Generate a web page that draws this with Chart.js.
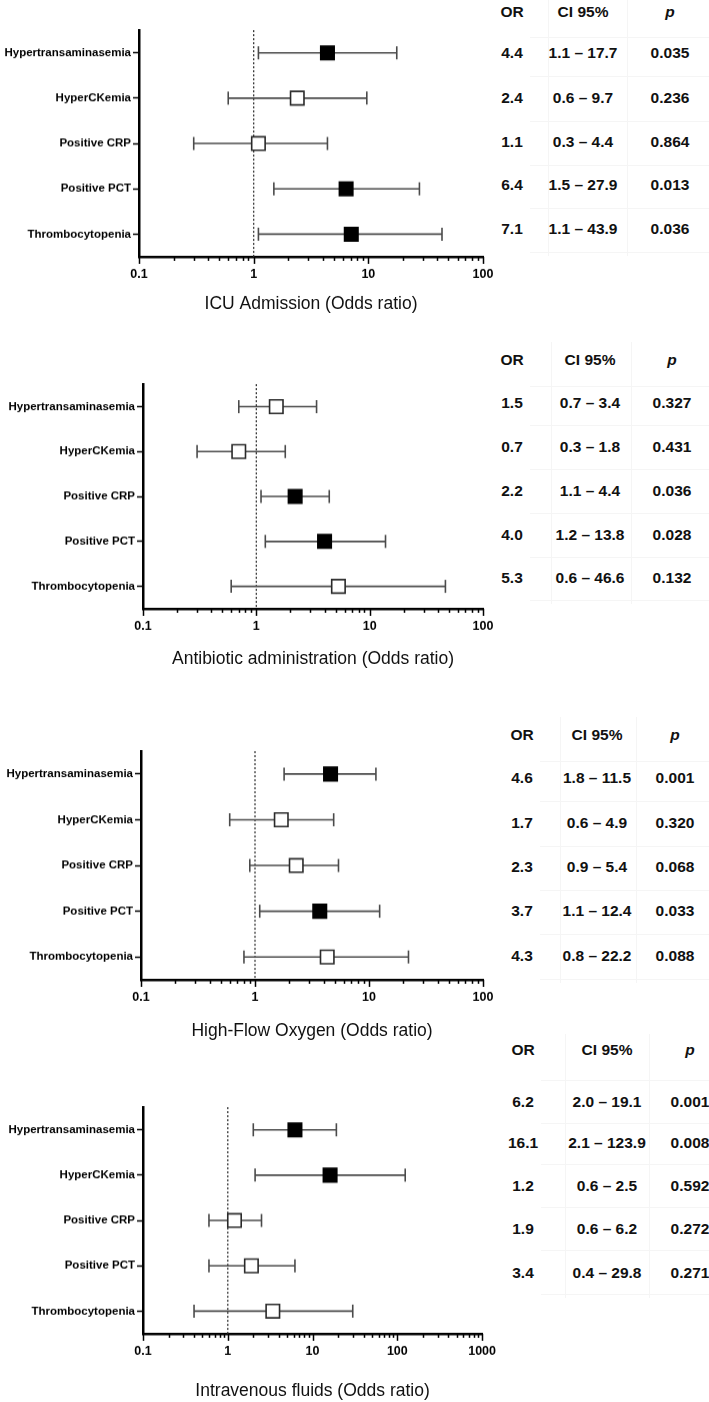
<!DOCTYPE html>
<html>
<head>
<meta charset="utf-8">
<script src="https://cdn.jsdelivr.net/npm/chart.js@4.4.1/dist/chart.umd.min.js"></script>
<style>
  html, body { margin: 0; padding: 0; background: #fff; }
  body { width: 709px; height: 1402px; position: relative; overflow: hidden;
         font-family: "Liberation Sans", Arial, Helvetica, sans-serif; }
  .box { position: absolute; left: 0; width: 500px; }
  .cell { position: absolute; transform: translate(-50%, -50%); font-weight: bold;
          font-size: 15.5px; white-space: nowrap; color: #111; line-height: 1; }
  .vline { position: absolute; width: 1px; background: #f5f5f5; }
  .hline { position: absolute; height: 1px; background: #f5f5f5; }
</style>
</head>
<body>
<script>
// ---------------- DATA ----------------
const categories = ["Hypertransaminasemia", "HyperCKemia", "Positive CRP", "Positive PCT", "Thrombocytopenia"];

const icuOR   = [4.4, 2.4, 1.1, 6.4, 7.1];
const icuLow  = [1.1, 0.6, 0.3, 1.5, 1.1];
const icuHigh = [17.7, 9.7, 4.4, 27.9, 43.9];
const icuP    = ["0.035", "0.236", "0.864", "0.013", "0.036"];

const abxOR   = [1.5, 0.7, 2.2, 4.0, 5.3];
const abxLow  = [0.7, 0.3, 1.1, 1.2, 0.6];
const abxHigh = [3.4, 1.8, 4.4, 13.8, 46.6];
const abxP    = ["0.327", "0.431", "0.036", "0.028", "0.132"];

const hfoOR   = [4.6, 1.7, 2.3, 3.7, 4.3];
const hfoLow  = [1.8, 0.6, 0.9, 1.1, 0.8];
const hfoHigh = [11.5, 4.9, 5.4, 12.4, 22.2];
const hfoP    = ["0.001", "0.320", "0.068", "0.033", "0.088"];

const ivOR    = [6.2, 16.1, 1.2, 1.9, 3.4];
const ivLow   = [2.0, 2.1, 0.6, 0.6, 0.4];
const ivHigh  = [19.1, 123.9, 2.5, 6.2, 29.8];
const ivP     = ["0.001", "0.008", "0.592", "0.272", "0.271"];

const tickValues100  = [0.1, 1, 10, 100];
const tickLabels100  = ["0.1", "1", "10", "100"];
const tickValues1000 = [0.1, 1, 10, 100, 1000];
const tickLabels1000 = ["0.1", "1", "10", "100", "1000"];

const axisTitles = ["ICU Admission (Odds ratio)", "Antibiotic administration (Odds ratio)",
                    "High-Flow Oxygen (Odds ratio)", "Intravenous fluids (Odds ratio)"];
const tableHeaders = ["OR", "CI 95%", "p"];

// ---------------- LAYOUT (positions only) ----------------
const layouts = [
  { left: 139, top: 29,   bottom: 256,  titleY: 303,  thead: 12,   trows: [53, 98, 142, 185, 229],      tcols: [512, 583, 670] },
  { left: 143, top: 383,  bottom: 608,  titleY: 658,  thead: 360,  trows: [403, 447, 491, 535, 578],    tcols: [512, 590, 672] },
  { left: 141, top: 750,  bottom: 979,  titleY: 1030, thead: 735,  trows: [778, 823, 867, 911, 956],    tcols: [522, 597, 675] },
  { left: 143, top: 1106, bottom: 1333, titleY: 1390, thead: 1050, trows: [1102, 1143, 1186, 1229, 1273], tcols: [523, 607, 690] }
];

const panels = [
  { or: icuOR, lo: icuLow, hi: icuHigh, p: icuP, ticks: tickValues100,  labels: tickLabels100,  title: axisTitles[0] },
  { or: abxOR, lo: abxLow, hi: abxHigh, p: abxP, ticks: tickValues100,  labels: tickLabels100,  title: axisTitles[1] },
  { or: hfoOR, lo: hfoLow, hi: hfoHigh, p: hfoP, ticks: tickValues100,  labels: tickLabels100,  title: axisTitles[2] },
  { or: ivOR,  lo: ivLow,  hi: ivHigh,  p: ivP,  ticks: tickValues1000, labels: tickLabels1000, title: axisTitles[3] }
];

const FONT = '"Liberation Sans", Arial, Helvetica, sans-serif';
const TITLE_SIZE = 17.5;
const TITLE_LH = TITLE_SIZE * 1.2;
const RIGHT_EDGE = 500;
const PAD_RIGHT = 17;
const PAD_TOP = 10;

// plugin: dotted reference line at OR = 1 and log tick marks
const refLinePlugin = {
  id: 'refLine',
  beforeDatasetsDraw(chart) {
    const x = chart.scales.x.getPixelForValue(1);
    const { top, bottom } = chart.chartArea;
    const ctx = chart.ctx;
    ctx.save();
    ctx.strokeStyle = '#333';
    ctx.lineWidth = 1.3;
    ctx.setLineDash([2, 2]);
    ctx.beginPath();
    ctx.moveTo(x, top);
    ctx.lineTo(x, bottom);
    ctx.stroke();
    ctx.restore();
  },
  afterDraw(chart) {
    const xs = chart.scales.x;
    const ctx = chart.ctx;
    const y0 = chart.chartArea.bottom;
    ctx.save();
    ctx.strokeStyle = '#000';
    ctx.lineWidth = 1.5;
    for (let d = xs.min; d < xs.max * 1.0001; d *= 10) {
      const dec = Math.round(d * 1000) / 1000;
      for (let k = 1; k <= 9; k++) {
        const v = dec * k;
        if (v > xs.max * 1.0001) break;
        const px = Math.round(xs.getPixelForValue(v)) + 0.5;
        const len = k === 1 ? 7 : 4;
        ctx.beginPath();
        ctx.moveTo(px, y0);
        ctx.lineTo(px, y0 + len);
        ctx.stroke();
      }
    }
    ctx.restore();
  }
};

panels.forEach((pd, pi) => {
  const L = layouts[pi];
  const hX = L.titleY - L.bottom + TITLE_LH / 2;
  const boxTop = L.top - PAD_TOP;
  const boxH = (L.bottom - L.top) + PAD_TOP + hX;

  const div = document.createElement('div');
  div.className = 'box';
  div.style.top = boxTop + 'px';
  div.style.height = boxH + 'px';
  div.style.width = RIGHT_EDGE + 'px';
  const canvas = document.createElement('canvas');
  div.appendChild(canvas);
  document.body.appendChild(div);

  const sig = pd.p.map(v => parseFloat(v) < 0.05);

  const datasets = categories.map((c, i) => ({
    data: [{ x: pd.lo[i], y: c }, { x: pd.hi[i], y: c }],
    showLine: true,
    borderColor: '#4a4a4a',
    borderWidth: 1.6,
    pointStyle: 'line',
    pointRotation: 90,
    pointRadius: 6.5,
    pointBorderWidth: 1.6,
    pointBorderColor: '#4a4a4a',
    pointHoverRadius: 6.5,
    order: 2,
    clip: false
  }));
  datasets.push({
    data: pd.or.map((v, i) => ({ x: v, y: categories[i] })),
    showLine: false,
    pointStyle: 'rect',
    pointRadius: 9.5,
    pointHoverRadius: 9.5,
    pointBackgroundColor: sig.map(s => s ? '#000' : '#fff'),
    pointBorderColor: sig.map(s => s ? '#000' : '#2a2a2a'),
    pointBorderWidth: 1.6,
    order: 1,
    clip: false
  });

  new Chart(canvas, {
    type: 'scatter',
    data: { datasets },
    plugins: [refLinePlugin],
    options: {
      responsive: true,
      maintainAspectRatio: false,
      animation: false,
      events: [],
      layout: { padding: { top: PAD_TOP, right: PAD_RIGHT, left: 0, bottom: 0 } },
      plugins: { legend: { display: false }, tooltip: { enabled: false } },
      scales: {
        x: {
          type: 'logarithmic',
          min: pd.ticks[0],
          max: pd.ticks[pd.ticks.length - 1],
          afterBuildTicks(scale) { scale.ticks = pd.ticks.map(v => ({ value: v, major: true })); },
          afterFit(scale) { scale.height = hX; },
          grid: { display: true, drawOnChartArea: false, drawTicks: true, tickLength: 6, tickColor: 'rgba(0,0,0,0)' },
          border: { display: true, color: '#000', width: 2.5 },
          ticks: {
            autoSkip: false, maxRotation: 0, padding: 4,
            color: '#000',
            font: { family: FONT, size: 12.5, weight: 'bold' },
            callback: (v, i) => pd.labels[i]
          },
          title: {
            display: true, text: pd.title, color: '#111',
            font: { family: FONT, size: TITLE_SIZE, weight: 'normal' },
            padding: { top: 0, bottom: 0 }
          }
        },
        y: {
          type: 'category',
          labels: categories,
          offset: true,
          afterFit(scale) { scale.width = L.left; },
          grid: { display: true, drawOnChartArea: false, drawTicks: true, tickLength: 6, tickColor: '#000', tickWidth: 1.5 },
          border: { display: true, color: '#000', width: 2.5 },
          ticks: {
            padding: 2, color: '#000',
            font: { family: FONT, size: 11.5, weight: 'bold' }
          }
        }
      }
    }
  });

  // table
  const cols = L.tcols;
  const rows = L.trows;
  const colBounds = [cols[0] + (cols[1] - cols[0]) / 2, cols[1] + (cols[2] - cols[1]) / 2];
  const rowStep = rows[1] - rows[0];
  const tTop = L.thead - rowStep / 2 + 4;
  const tBottom = rows[rows.length - 1] + rowStep / 2 + 4;
  colBounds.forEach(x => {
    const v = document.createElement('div');
    v.className = 'vline';
    v.style.left = Math.round(x) + 'px';
    v.style.top = tTop + 'px';
    v.style.height = (tBottom - tTop) + 'px';
    document.body.appendChild(v);
  });
  const hYs = [L.thead + (rows[0] - L.thead) / 2 + 4];
  for (let i = 0; i < rows.length; i++) hYs.push(rows[i] + rowStep / 2);
  hYs.forEach(y => {
    const h = document.createElement('div');
    h.className = 'hline';
    h.style.left = (cols[0] + 18) + 'px';
    h.style.top = Math.round(y) + 'px';
    h.style.width = (709 - cols[0] - 18) + 'px';
    document.body.appendChild(h);
  });

  const addCell = (x, y, html) => {
    const c = document.createElement('div');
    c.className = 'cell';
    c.style.left = x + 'px';
    c.style.top = y + 'px';
    c.innerHTML = html;
    document.body.appendChild(c);
  };
  addCell(cols[0], L.thead, tableHeaders[0]);
  addCell(cols[1], L.thead, tableHeaders[1]);
  addCell(cols[2], L.thead, '<i>' + tableHeaders[2] + '</i>');
  categories.forEach((c, i) => {
    addCell(cols[0], rows[i], pd.or[i].toFixed(1));
    addCell(cols[1], rows[i], pd.lo[i].toFixed(1) + ' \u2013 ' + pd.hi[i].toFixed(1));
    addCell(cols[2], rows[i], pd.p[i]);
  });
});
</script>
</body>
</html>
